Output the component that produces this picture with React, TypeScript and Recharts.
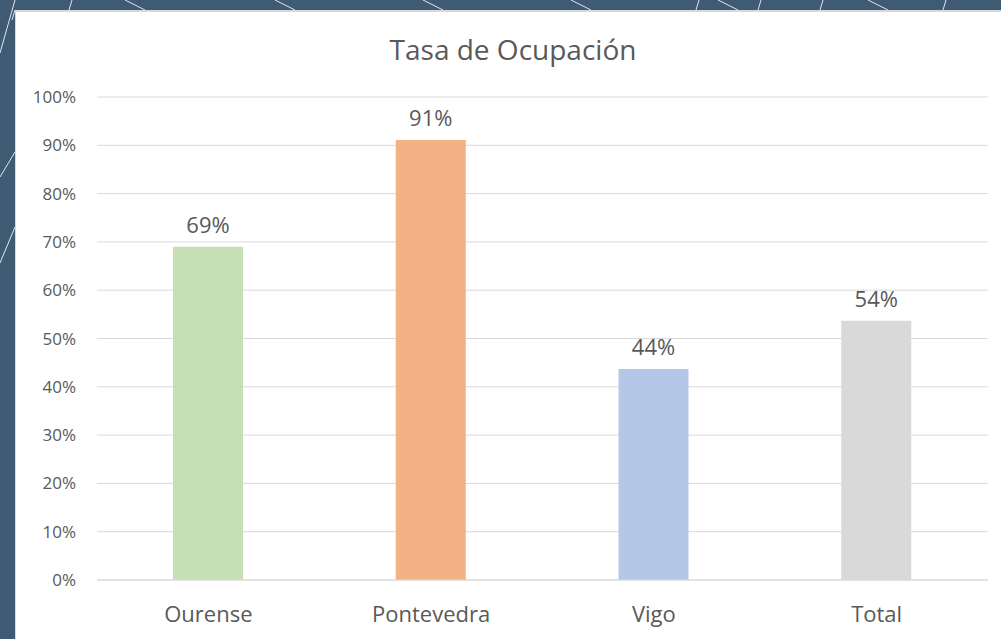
import React from "react";
import { BarChart, Bar, XAxis, YAxis, CartesianGrid, LabelList, Cell } from "recharts";

const categories = ["Ourense", "Pontevedra", "Vigo", "Total"];
const occupancy = [0.69, 0.911, 0.437, 0.537];
const yTicks = [0, 0.1, 0.2, 0.3, 0.4, 0.5, 0.6, 0.7, 0.8, 0.9, 1];
const chartTitle = "Tasa de Ocupación";

const barColors = ["#c5e0b4", "#f4b183", "#b4c7e7", "#d9d9d9"];

const data = categories.map((name, i) => ({ name, value: occupancy[i] }));

const FONT = "'Open Sans', 'Noto Sans', sans-serif";
const TEXT = "#595959";
const pct = (v: number) => `${Math.round(v * 100)}%`;

const decoLines: [number, number, number, number][] = [
  [15, 0, 0, 53],
  [15, 152, 0, 177],
  [15, 227, 0, 263],
  [15, 10, 12, 20],
  [72, 0, 69, 10],
  [125, 0, 145, 10],
  [275, 0, 295, 10],
  [423, 0, 443, 10],
  [571, 0, 591, 10],
  [699, 0, 696, 10],
  [718, 0, 738, 10],
  [761, 0, 758, 10],
  [823, 0, 820, 10],
  [868, 0, 888, 10],
  [946, 0, 943, 10],
];

export default function App() {
  return (
    <div
      style={{
        position: "fixed",
        left: 0,
        top: 0,
        width: 1001,
        height: 639,
        background: "#3f5b73",
        overflow: "hidden",
        fontFamily: FONT,
      }}
    >
      <svg width={1001} height={639} style={{ position: "absolute", left: 0, top: 0 }}>
        {decoLines.map(([x1, y1, x2, y2], i) => (
          <line key={i} x1={x1} y1={y1} x2={x2} y2={y2} stroke="#ffffff" strokeWidth={1} opacity={0.85} />
        ))}
      </svg>
      <div
        style={{
          position: "absolute",
          left: 15,
          top: 10,
          width: 986,
          height: 629,
          background: "#ffffff",
          boxSizing: "border-box",
          borderTop: "2px solid #d9d9d9",
          borderLeft: "1px solid #d9d9d9",
        }}
      />
      <div
        style={{
          position: "absolute",
          left: 313,
          top: 35,
          width: 400,
          textAlign: "center",
          fontSize: 28,
          lineHeight: "28px",
          color: TEXT,
          fontFamily: FONT,
        }}
      >
        {chartTitle}
      </div>
      <div style={{ position: "absolute", left: 15, top: 10 }}>
        <BarChart
          width={986}
          height={629}
          data={data}
          margin={{ top: 87, right: 13, bottom: 19, left: 0 }}
        >
          <CartesianGrid vertical={false} stroke="#d9d9d9" strokeWidth={1} />
          <XAxis
            dataKey="name"
            height={40}
            axisLine={{ stroke: "#d9d9d9", strokeWidth: 1 }}
            tickLine={false}
            tickSize={0}
            tickMargin={26}
            tick={{ fill: TEXT, fontSize: 22, fontFamily: FONT }}
          />
          <YAxis
            width={82}
            domain={[0, 1]}
            ticks={yTicks}
            tickFormatter={pct}
            axisLine={false}
            tickLine={false}
            tickSize={0}
            tickMargin={21}
            interval={0}
            tick={{ fill: TEXT, fontSize: 17, fontFamily: FONT }}
          />
          <Bar dataKey="value" barSize={70} isAnimationActive={false}>
            {data.map((d, i) => (
              <Cell key={d.name} fill={barColors[i]} />
            ))}
            <LabelList
              dataKey="value"
              position="top"
              offset={14}
              formatter={(v: any) => pct(Number(v))}
              style={{ fill: TEXT, fontSize: 22, fontFamily: FONT }}
            />
          </Bar>
        </BarChart>
      </div>
    </div>
  );
}
